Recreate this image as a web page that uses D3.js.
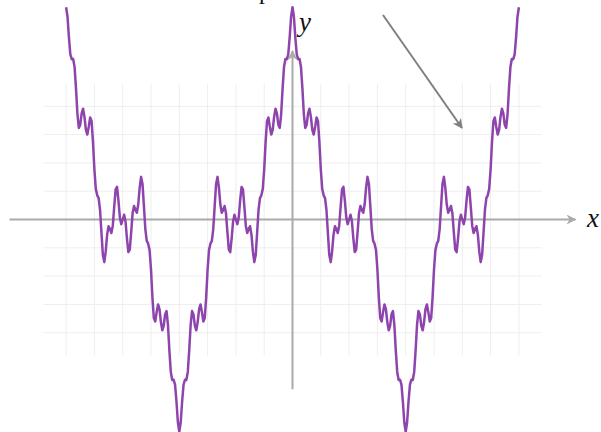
<!DOCTYPE html>
<html>
<head>
<meta charset="utf-8">
<script src="https://cdn.jsdelivr.net/npm/d3@7"></script>
<style>
  html, body { margin: 0; padding: 0; background: #ffffff; }
  svg { display: block; }
</style>
</head>
<body>
<svg id="chart" width="601" height="432"></svg>
<script>
// ---- data ----
// The curve is a truncated Weierstrass-type cosine sum: amplitude of each term
// and its angular frequency (in units of pi/4 per x unit).
const termAmplitudes = [4, 2, 1, 0.5];
const termFrequencies = [1, 3, 9, 27];
const curveDomain = [-8, 8];
const gridXValues = [-8, -7, -6, -5, -4, -3, -2, -1, 0, 1, 2, 3, 4, 5, 6, 7, 8];
const gridYValues = [-4, -3, -2, -1, 0, 1, 2, 3, 4];
const axisXLabel = "x";
const axisYLabel = "y";
const calloutLabel = "Sharp corners at all scales";

// ---- layout ----
const svg = d3.select("#chart");
const unit = 28.3;
const cx = 292.5, cy = 219.5;
const x = d3.scaleLinear().domain([-10, 10]).range([cx - 10 * unit, cx + 10 * unit]);
const y = d3.scaleLinear().domain([-6, 6]).range([cy + 6 * unit, cy - 6 * unit]);

// grid
const grid = svg.append("g");
grid.selectAll("line.gx").data(gridXValues.filter(v => v !== 0)).join("line")
  .attr("x1", d => x(d)).attr("x2", d => x(d))
  .attr("y1", y(4.8)).attr("y2", y(-4.8))
  .attr("stroke", "#eeeeee").attr("stroke-width", 1);
grid.selectAll("line.gy").data(gridYValues.filter(v => v !== 0)).join("line")
  .attr("y1", d => y(d)).attr("y2", d => y(d))
  .attr("x1", x(-8.8)).attr("x2", x(8.8))
  .attr("stroke", "#eeeeee").attr("stroke-width", 1);

// arrow markers
const defs = svg.append("defs");
defs.append("marker").attr("id", "axisArrow")
  .attr("viewBox", "0 0 10 10").attr("refX", 9).attr("refY", 5)
  .attr("markerWidth", 5).attr("markerHeight", 5).attr("markerUnits", "strokeWidth")
  .attr("orient", "auto")
  .append("path").attr("d", "M0,0 L10,5 L0,10 L3,5 Z").attr("fill", "#aaaaaa");
defs.append("marker").attr("id", "calloutArrow")
  .attr("viewBox", "0 0 10 10").attr("refX", 9).attr("refY", 5)
  .attr("markerWidth", 5).attr("markerHeight", 5).attr("markerUnits", "strokeWidth")
  .attr("orient", "auto")
  .append("path").attr("d", "M0,0 L10,5 L0,10 L3,5 Z").attr("fill", "#808080");

// axes
svg.append("line")
  .attr("x1", x(-10)).attr("x2", x(10)).attr("y1", y(0)).attr("y2", y(0))
  .attr("stroke", "#aaaaaa").attr("stroke-width", 2).attr("marker-end", "url(#axisArrow)");
svg.append("line")
  .attr("x1", x(0)).attr("x2", x(0)).attr("y1", y(-6)).attr("y2", y(5.95))
  .attr("stroke", "#aaaaaa").attr("stroke-width", 2).attr("marker-end", "url(#axisArrow)");

// curve
const f = t => d3.sum(termAmplitudes, (a, i) => a * Math.cos(termFrequencies[i] * Math.PI * t / 4));
const nSamples = 320;
const samples = d3.range(0, nSamples + 1).map(i => {
  const t = curveDomain[0] + (curveDomain[1] - curveDomain[0]) * i / nSamples;
  return [t, f(t)];
});
svg.append("path").datum(samples)
  .attr("fill", "none").attr("stroke", "#8e44ad").attr("stroke-width", 2.5)
  .attr("stroke-linejoin", "round")
  .attr("d", d3.line().x(d => x(d[0])).y(d => y(d[1])));

// axis labels
svg.append("text").attr("x", 587).attr("y", 227)
  .attr("font-family", "Liberation Serif, serif").attr("font-style", "italic")
  .attr("font-size", 27).attr("fill", "#111").text(axisXLabel);
svg.append("text").attr("x", 299).attr("y", 31)
  .attr("font-family", "Liberation Serif, serif").attr("font-style", "italic")
  .attr("font-size", 27).attr("fill", "#111").text(axisYLabel);

// callout (label sits mostly above the visible area)
const label = svg.append("text").attr("x", 0).attr("y", -1)
  .attr("font-family", "Liberation Serif, serif")
  .attr("font-size", 24).attr("fill", "#111").text(calloutLabel);
const pIndex = calloutLabel.indexOf("p");
const pPos = label.node().getStartPositionOfChar(pIndex).x;
label.attr("x", 259 - pPos);
svg.append("line")
  .attr("x1", 383).attr("y1", 15).attr("x2", 462).attr("y2", 128)
  .attr("stroke", "#808080").attr("stroke-width", 2).attr("marker-end", "url(#calloutArrow)");
</script>
</body>
</html>
